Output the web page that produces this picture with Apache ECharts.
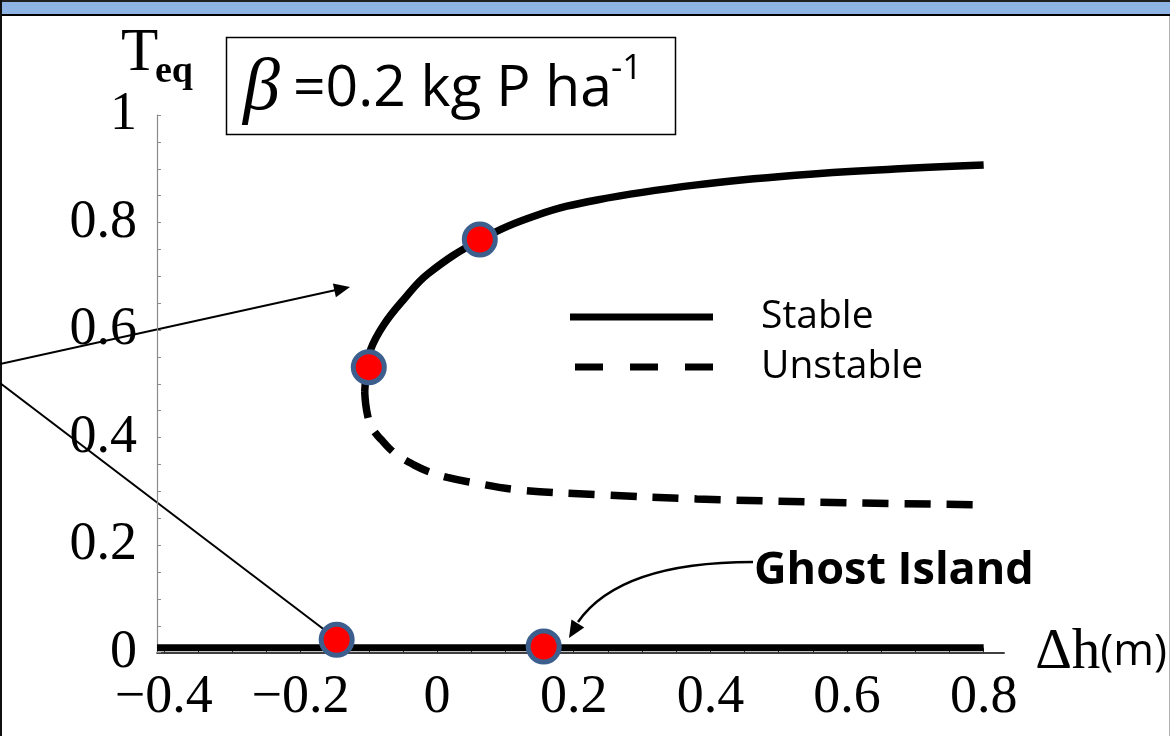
<!DOCTYPE html>
<html>
<head>
<meta charset="utf-8">
<script src="https://cdn.jsdelivr.net/npm/echarts@6/dist/echarts.min.js"></script>
<style>
  html, body { margin: 0; padding: 0; background: #ffffff; }
  #chart { width: 1170px; height: 736px; }
</style>
</head>
<body>
<div id="chart"></div>
<script>
// Upper stable equilibrium branch (Δh in m, T_eq)
const upperStableX = [-0.106, -0.1035, -0.0975, -0.0785, -0.0495, -0.013, 0.0625, 0.147, 0.234, 0.380, 0.525, 0.670, 0.800];
const upperStableT = [0.485, 0.520, 0.563, 0.609, 0.656, 0.705, 0.7675, 0.814, 0.842, 0.870, 0.888, 0.8995, 0.907];

// Unstable branch (dashed)
const unstableX = [-0.106, -0.1045, -0.1015, -0.0975, -0.0900, -0.0815, -0.0700, -0.0567, -0.035, -0.013, 0.015, 0.045, 0.118, 0.234, 0.380, 0.598, 0.800];
const unstableT = [0.485, 0.462, 0.440, 0.424, 0.408, 0.396, 0.380, 0.366, 0.350, 0.337, 0.326, 0.318, 0.303, 0.294, 0.286, 0.279, 0.275];

// Lower stable branch (no vegetation)
const lowerStableX = [-0.41, 0.80];
const lowerStableT = [0.009, 0.009];

// Highlighted states
const pointX = [-0.147, 0.156, -0.100, 0.0625];
const pointT = [0.024, 0.0115, 0.531, 0.7685];

// Axis ticks and labels
const xTickValues = [-0.4, -0.35, -0.3, -0.25, -0.2, -0.15, -0.1, -0.05, 0, 0.05, 0.1, 0.15, 0.2, 0.25, 0.3, 0.35, 0.4, 0.45, 0.5, 0.55, 0.6, 0.65, 0.7, 0.75, 0.8];
const xLabelValues = [-0.4, -0.2, 0, 0.2, 0.4, 0.6, 0.8];
const yTickValues = [0, 0.05, 0.1, 0.15, 0.2, 0.25, 0.3, 0.35, 0.4, 0.45, 0.5, 0.55, 0.6, 0.65, 0.7, 0.75, 0.8, 0.85, 0.9, 0.95, 1];
const yLabelValues = [0, 0.2, 0.4, 0.6, 0.8, 1];

const zip = (xs, ys) => xs.map((x, i) => [x, ys[i]]);

const SERIF = 'Liberation Serif';
const SANS = 'Open Sans';

// Filled arrowhead pointing from (fx, fy) toward the tip (tx, ty)
function arrowHead(tx, ty, fx, fy, len, width) {
  const dx = tx - fx, dy = ty - fy;
  const d = Math.hypot(dx, dy);
  const ux = dx / d, uy = dy / d;
  const bx = tx - ux * len, by = ty - uy * len;
  const px = -uy * width / 2, py = ux * width / 2;
  return {
    type: 'polygon',
    shape: { points: [[tx, ty], [bx + px, by + py], [bx - px, by - py]] },
    style: { fill: '#000' }
  };
}

function label(text, x, y, font, extra) {
  return Object.assign({
    type: 'text',
    style: {
      text: text, x: x, y: y, font: font, fill: '#000',
      align: 'left', textAlign: 'left',
      verticalAlign: 'middle', textVerticalAlign: 'middle'
    }
  }, extra || {});
}

const graphics = [
  // window frame
  { type: 'rect', shape: { x: 0, y: 0, width: 1170, height: 2 }, style: { fill: '#202020' } },
  { type: 'rect', shape: { x: 0, y: 2, width: 1170, height: 12 }, style: { fill: '#8eb4e3' } },
  { type: 'rect', shape: { x: 0, y: 14, width: 1170, height: 2 }, style: { fill: '#000' } },
  { type: 'rect', shape: { x: 0, y: 0, width: 2, height: 736 }, style: { fill: '#111' } },
  { type: 'rect', shape: { x: 1169, y: 16, width: 1, height: 720 }, style: { fill: '#b0b0b0' } },

  // y-axis title
  label('T', 121, 54, '61px "' + SERIF + '"'),
  label('eq', 155, 72, 'bold 38px "' + SERIF + '"'),

  // parameter box
  { type: 'rect', shape: { x: 226.5, y: 37.5, width: 449, height: 97 }, style: { fill: '#fff', stroke: '#000', lineWidth: 1.5 } },
  label('\u03b2', 243, 90, 'italic 74px "' + SERIF + '"'),
  label('=0.2 kg P ha', 293, 90, '57px "' + SANS + '"'),
  label('-1', 611, 69, '35px "' + SANS + '"'),

  // legend
  { type: 'line', shape: { x1: 570, y1: 317, x2: 713, y2: 317 }, style: { stroke: '#000', lineWidth: 7 } },
  { type: 'line', shape: { x1: 575, y1: 367, x2: 717, y2: 367 }, style: { stroke: '#000', lineWidth: 7, lineDash: [28, 27] } },
  label('Stable', 761, 317, '39px "' + SANS + '"'),
  label('Unstable', 761, 367, '39px "' + SANS + '"'),

  // pointer arrows from the left
  { type: 'line', shape: { x1: 0, y1: 364, x2: 336, y2: 290 }, style: { stroke: '#000', lineWidth: 2 } },
  arrowHead(350, 287, 0, 364, 16, 14),
  { type: 'line', shape: { x1: 0, y1: 383, x2: 326, y2: 631 }, style: { stroke: '#000', lineWidth: 2 } },

  // Ghost Island annotation
  label('Ghost Island', 754, 571, 'bold 45px "' + SANS + '"'),
  { type: 'bezierCurve', shape: { x1: 753, y1: 562, x2: 578, y2: 622, cpx1: 620, cpy1: 562 }, style: { stroke: '#000', lineWidth: 2.5, fill: null } },
  arrowHead(569, 638, 580, 620, 17, 15)
];

const option = {
  animation: false,
  backgroundColor: '#ffffff',
  graphic: { elements: graphics },
  grid: { left: 157, top: 115, width: 852.5, height: 537.7, containLabel: false },
  xAxis: {
    type: 'value',
    min: -0.41,
    max: 0.83,
    axisLine: { show: true, onZero: false, lineStyle: { color: '#000', width: 1.5 } },
    axisTick: { show: true, inside: true, length: 5, customValues: xTickValues, lineStyle: { color: '#333', width: 1 } },
    axisLabel: {
      customValues: xLabelValues,
      margin: 18,
      fontFamily: SERIF,
      fontSize: 54,
      color: '#000',
      formatter: v => String(v).replace('-', '\u2212')
    },
    splitLine: { show: false },
    name: '{d|\u0394h}{m|(m)}',
    nameLocation: 'end',
    nameGap: 31,
    nameTextStyle: {
      rich: {
        d: { fontFamily: SERIF, fontSize: 57, color: '#000', verticalAlign: 'middle' },
        m: { fontFamily: SANS, fontSize: 44, color: '#000', verticalAlign: 'middle' }
      }
    }
  },
  yAxis: {
    type: 'value',
    min: 0,
    max: 1,
    axisLine: { show: true, onZero: false, lineStyle: { color: '#8a8a8a', width: 1.2 } },
    axisTick: { show: true, inside: true, length: 4, customValues: yTickValues, lineStyle: { color: '#8a8a8a', width: 1 } },
    axisLabel: {
      customValues: yLabelValues,
      margin: 20,
      fontFamily: SERIF,
      fontSize: 54,
      color: '#000'
    },
    splitLine: { show: false }
  },
  series: [
    {
      name: 'Stable',
      type: 'line',
      data: zip(upperStableX, upperStableT),
      smooth: 0.4,
      showSymbol: false,
      lineStyle: { color: '#000', width: 7.5 },
      z: 3
    },
    {
      name: 'Unstable',
      type: 'line',
      data: zip(unstableX, unstableT),
      smooth: 0.4,
      showSymbol: false,
      lineStyle: { color: '#000', width: 7.5, type: [26, 16], cap: 'butt' },
      z: 3
    },
    {
      name: 'Stable (bare)',
      type: 'line',
      data: zip(lowerStableX, lowerStableT),
      showSymbol: false,
      clip: false,
      lineStyle: { color: '#000', width: 7, cap: 'butt' },
      z: 3
    },
    {
      name: 'States',
      type: 'scatter',
      data: zip(pointX, pointT),
      symbol: 'circle',
      symbolSize: 31,
      itemStyle: { color: '#ff0000', borderColor: '#3c5f8e', borderWidth: 5, opacity: 1 },
      z: 5
    }
  ]
};

const chart = echarts.init(document.getElementById('chart'), null, { renderer: 'canvas' });
chart.setOption(option);
</script>
</body>
</html>
